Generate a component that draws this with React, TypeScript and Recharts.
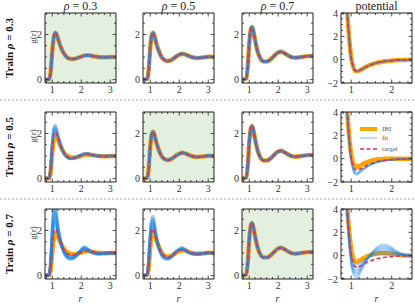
import React from "react";
import { LineChart, Line, XAxis, YAxis, ReferenceArea, Legend } from "recharts";

const FONT = '"Liberation Serif", "DejaVu Serif", serif';
const ORANGE = "#ffa500";
const BLUE = "#1e88e5";
const PINK = "#d63264";
const GREEN = "#e3efdf";

// r grid for g(r) panels and for potential panels
const R_G = [0.75, 0.9, 0.95, 1.0, 1.05, 1.1, 1.15, 1.2, 1.3, 1.4, 1.5, 1.6, 1.7, 1.8, 1.9, 2.0, 2.1, 2.2, 2.3, 2.45, 2.6, 2.8, 3.0, 3.2];
const R_U = [0.75, 0.85, 0.9, 0.95, 1.0, 1.05, 1.1, 1.15, 1.2, 1.3, 1.4, 1.5, 1.6, 1.7, 1.8, 1.9, 2.0, 2.1, 2.2, 2.3, 2.4, 2.5];

// target g(r) at each density
const G_TARGET_03 = [0, 0.02, 0.4, 1.25, 1.85, 2.07, 2.0, 1.8, 1.42, 1.16, 1.0, 0.93, 0.91, 0.93, 0.97, 1.02, 1.06, 1.08, 1.07, 1.03, 1.0, 0.99, 1.0, 1.0];
const G_TARGET_05 = [0, 0.03, 0.5, 1.4, 1.95, 2.07, 1.9, 1.65, 1.25, 0.98, 0.86, 0.82, 0.85, 0.93, 1.03, 1.1, 1.14, 1.12, 1.06, 0.99, 0.96, 0.98, 1.01, 1.0];
const G_TARGET_07 = [0, 0.05, 0.6, 1.6, 2.2, 2.33, 2.1, 1.75, 1.2, 0.9, 0.8, 0.8, 0.86, 0.97, 1.1, 1.2, 1.23, 1.18, 1.1, 1.0, 0.97, 1.0, 1.04, 1.05];

// trained at 0.5, tested at 0.3
const G_IBI_05_AT_03 = [0, 0.02, 0.35, 1.15, 1.72, 1.93, 1.88, 1.72, 1.4, 1.16, 1.02, 0.95, 0.93, 0.94, 0.97, 1.01, 1.05, 1.07, 1.06, 1.03, 1.0, 0.99, 1.0, 1.0];
const G_FIT_05_AT_03_A = [0, 0.03, 0.5, 1.45, 2.05, 2.18, 2.05, 1.82, 1.42, 1.13, 0.97, 0.9, 0.9, 0.93, 0.98, 1.04, 1.08, 1.09, 1.07, 1.03, 1.0, 0.99, 1.0, 1.0];
const G_FIT_05_AT_03_B = [0, 0.03, 0.52, 1.5, 2.12, 2.27, 2.12, 1.86, 1.44, 1.13, 0.96, 0.89, 0.89, 0.93, 0.98, 1.04, 1.09, 1.1, 1.08, 1.03, 1.0, 0.99, 1.0, 1.0];
const G_FIT_05_AT_03_C = [0, 0.04, 0.55, 1.55, 2.2, 2.36, 2.2, 1.9, 1.46, 1.12, 0.95, 0.88, 0.88, 0.92, 0.98, 1.05, 1.1, 1.11, 1.08, 1.03, 1.0, 0.99, 1.0, 1.0];

// trained at 0.7, tested at 0.3
const G_IBI_07_AT_03 = [0, 0.02, 0.3, 1.05, 1.6, 1.85, 1.83, 1.7, 1.42, 1.2, 1.05, 0.97, 0.95, 0.96, 0.99, 1.03, 1.07, 1.09, 1.08, 1.04, 1.01, 0.99, 1.0, 1.0];
const G_FIT_07_AT_03_A = [0, 0.04, 0.55, 1.55, 2.2, 2.35, 2.15, 1.85, 1.4, 1.1, 0.93, 0.86, 0.85, 0.89, 0.98, 1.08, 1.14, 1.13, 1.08, 1.02, 0.99, 0.99, 1.0, 1.0];
const G_FIT_07_AT_03_B = [0, 0.05, 0.6, 1.7, 2.4, 2.55, 2.3, 1.95, 1.42, 1.08, 0.9, 0.82, 0.81, 0.87, 0.98, 1.1, 1.17, 1.15, 1.08, 1.01, 0.98, 0.99, 1.0, 1.0];
const G_FIT_07_AT_03_C = [0, 0.05, 0.65, 1.85, 2.6, 2.75, 2.45, 2.02, 1.44, 1.06, 0.86, 0.79, 0.78, 0.85, 0.98, 1.12, 1.2, 1.17, 1.08, 1.0, 0.97, 0.99, 1.01, 1.0];
const G_FIT_07_AT_03_D = [0, 0.06, 0.7, 2.0, 2.8, 2.95, 2.6, 2.1, 1.46, 1.04, 0.83, 0.76, 0.76, 0.83, 0.98, 1.14, 1.24, 1.19, 1.08, 0.99, 0.96, 0.99, 1.01, 1.0];
const G_FIT_07_AT_03_E = [0, 0.06, 0.75, 2.15, 3.0, 3.15, 2.75, 2.18, 1.48, 1.02, 0.8, 0.73, 0.74, 0.82, 0.98, 1.16, 1.28, 1.21, 1.08, 0.98, 0.95, 0.99, 1.01, 1.0];

// trained at 0.7, tested at 0.5
const G_IBI_07_AT_05 = [0, 0.02, 0.4, 1.3, 1.82, 1.95, 1.83, 1.62, 1.26, 1.0, 0.88, 0.84, 0.86, 0.93, 1.02, 1.08, 1.12, 1.11, 1.06, 1.0, 0.97, 0.98, 1.01, 1.0];
const G_FIT_07_AT_05_A = [0, 0.04, 0.6, 1.6, 2.12, 2.2, 1.98, 1.68, 1.24, 0.95, 0.83, 0.8, 0.84, 0.94, 1.05, 1.12, 1.15, 1.12, 1.05, 0.98, 0.96, 0.98, 1.01, 1.0];
const G_FIT_07_AT_05_B = [0, 0.05, 0.65, 1.7, 2.25, 2.35, 2.08, 1.72, 1.24, 0.93, 0.8, 0.77, 0.82, 0.93, 1.06, 1.14, 1.18, 1.13, 1.05, 0.98, 0.96, 0.98, 1.01, 1.0];
const G_FIT_07_AT_05_C = [0, 0.05, 0.7, 1.8, 2.38, 2.5, 2.18, 1.76, 1.24, 0.91, 0.77, 0.74, 0.8, 0.93, 1.07, 1.16, 1.21, 1.15, 1.05, 0.97, 0.95, 0.98, 1.01, 1.0];
const G_FIT_07_AT_05_D = [0, 0.06, 0.75, 1.9, 2.5, 2.63, 2.28, 1.8, 1.24, 0.89, 0.74, 0.72, 0.78, 0.92, 1.08, 1.18, 1.24, 1.16, 1.05, 0.97, 0.95, 0.98, 1.01, 1.0];

// potentials
const U_TARGET = [12, 7, 4.2, 1.9, 0.2, -0.6, -0.95, -1.0, -0.93, -0.75, -0.56, -0.42, -0.3, -0.22, -0.16, -0.11, -0.08, -0.05, -0.03, -0.02, -0.01, 0];
const U_IBI_05 = [12, 7, 4.2, 2.0, 0.4, -0.35, -0.65, -0.7, -0.62, -0.45, -0.3, -0.18, -0.1, -0.05, -0.02, 0, 0, 0, 0, 0, 0, 0];
const U_FIT_05_A = [12, 7, 4.1, 1.7, 0, -0.85, -1.15, -1.18, -1.08, -0.85, -0.63, -0.46, -0.33, -0.24, -0.17, -0.12, -0.08, -0.05, -0.03, -0.02, -0.01, 0];
const U_FIT_05_B = [12, 7, 4.0, 1.6, -0.1, -0.95, -1.25, -1.28, -1.16, -0.9, -0.66, -0.48, -0.35, -0.25, -0.18, -0.12, -0.08, -0.05, -0.03, -0.02, -0.01, 0];
const U_FIT_05_C = [12, 7, 3.9, 1.5, -0.2, -1.05, -1.35, -1.38, -1.24, -0.95, -0.7, -0.5, -0.36, -0.26, -0.18, -0.13, -0.09, -0.06, -0.04, -0.02, -0.01, 0];
const U_IBI_07 = [12, 7, 4.3, 2.2, 0.6, -0.2, -0.48, -0.5, -0.42, -0.22, -0.05, 0.08, 0.16, 0.2, 0.21, 0.19, 0.15, 0.1, 0.06, 0.03, 0.01, 0];
const U_FIT_07_A = [12, 7, 4.2, 1.9, 0.2, -0.5, -0.72, -0.75, -0.68, -0.45, -0.22, -0.05, 0.06, 0.13, 0.15, 0.14, 0.11, 0.07, 0.04, 0.02, 0.01, 0];
const U_FIT_07_B = [12, 7, 4.1, 1.7, 0, -0.72, -0.95, -1.0, -0.9, -0.56, -0.22, 0.05, 0.22, 0.32, 0.35, 0.32, 0.25, 0.16, 0.09, 0.04, 0.01, 0];
const U_FIT_07_C = [12, 7, 4.0, 1.5, -0.2, -0.95, -1.2, -1.25, -1.1, -0.66, -0.24, 0.1, 0.32, 0.45, 0.5, 0.46, 0.36, 0.23, 0.12, 0.05, 0.02, 0];
const U_FIT_07_D = [12, 7, 3.9, 1.3, -0.4, -1.15, -1.4, -1.45, -1.28, -0.76, -0.26, 0.14, 0.42, 0.58, 0.65, 0.6, 0.47, 0.3, 0.16, 0.07, 0.02, 0];
const U_FIT_07_E = [12, 7, 3.8, 1.1, -0.6, -1.35, -1.6, -1.65, -1.45, -0.86, -0.28, 0.18, 0.52, 0.72, 0.8, 0.74, 0.58, 0.37, 0.2, 0.08, 0.02, 0];
const U_FIT_07_F = [12, 7, 3.7, 0.9, -0.8, -1.55, -1.8, -1.85, -1.62, -0.96, -0.3, 0.22, 0.62, 0.85, 0.95, 0.88, 0.69, 0.44, 0.24, 0.1, 0.03, 0];

// ticks
const G_X_MAJOR = [1, 2, 3];
const G_X_TICKS = [0.8, 1, 1.2, 1.4, 1.6, 1.8, 2, 2.2, 2.4, 2.6, 2.8, 3];
const G_Y_MAJOR = [0, 2];
const G_Y_TICKS = [0, 0.5, 1, 1.5, 2, 2.5];
const U_X_MAJOR = [1, 2];
const U_X_TICKS = [0.8, 1, 1.2, 1.4, 1.6, 1.8, 2, 2.2, 2.4];
const U_Y_MAJOR = [-2, 0, 2, 4];
const U_Y_TICKS = [-2, -1.5, -1, -0.5, 0, 0.5, 1, 1.5, 2, 2.5, 3, 3.5, 4];

const COL_TITLES = ["0.3", "0.5", "0.7"];
const ROW_LABELS = ["0.3", "0.5", "0.7"];

const COL_X = [45, 143, 242, 341];
const ROW_Y = [13, 112, 209];
const PW = 71;
const PH = 70;

type Panel = { kind: "g" | "u"; target: number[]; ibi: number[]; fits: number[][]; shaded?: boolean };

const PANELS: Panel[][] = [
  [
    { kind: "g", target: G_TARGET_03, ibi: G_TARGET_03, fits: [G_TARGET_03, G_TARGET_03, G_TARGET_03], shaded: true },
    { kind: "g", target: G_TARGET_05, ibi: G_TARGET_05, fits: [G_TARGET_05, G_TARGET_05, G_TARGET_05] },
    { kind: "g", target: G_TARGET_07, ibi: G_TARGET_07, fits: [G_TARGET_07, G_TARGET_07, G_TARGET_07] },
    { kind: "u", target: U_TARGET, ibi: U_TARGET, fits: [U_TARGET, U_TARGET, U_TARGET] },
  ],
  [
    { kind: "g", target: G_TARGET_03, ibi: G_IBI_05_AT_03, fits: [G_FIT_05_AT_03_A, G_FIT_05_AT_03_B, G_FIT_05_AT_03_C] },
    { kind: "g", target: G_TARGET_05, ibi: G_TARGET_05, fits: [G_TARGET_05, G_TARGET_05, G_TARGET_05], shaded: true },
    { kind: "g", target: G_TARGET_07, ibi: G_TARGET_07, fits: [G_TARGET_07, G_TARGET_07, G_TARGET_07] },
    { kind: "u", target: U_TARGET, ibi: U_IBI_05, fits: [U_FIT_05_A, U_FIT_05_B, U_FIT_05_C] },
  ],
  [
    { kind: "g", target: G_TARGET_03, ibi: G_IBI_07_AT_03, fits: [G_FIT_07_AT_03_A, G_FIT_07_AT_03_B, G_FIT_07_AT_03_C, G_FIT_07_AT_03_D, G_FIT_07_AT_03_E] },
    { kind: "g", target: G_TARGET_05, ibi: G_IBI_07_AT_05, fits: [G_FIT_07_AT_05_A, G_FIT_07_AT_05_B, G_FIT_07_AT_05_C, G_FIT_07_AT_05_D] },
    { kind: "g", target: G_TARGET_07, ibi: G_TARGET_07, fits: [G_TARGET_07, G_TARGET_07, G_TARGET_07], shaded: true },
    { kind: "u", target: U_TARGET, ibi: U_IBI_07, fits: [U_FIT_07_A, U_FIT_07_B, U_FIT_07_C, U_FIT_07_D, U_FIT_07_E, U_FIT_07_F] },
  ],
];

const fmt = (v: number) => (v < 0 ? "\u2212" + Math.abs(v) : String(v));

function makeTick(side: "b" | "t" | "l" | "r", majors: number[]) {
  return (p: any) => {
    const v = p.payload.value;
    const major = majors.includes(v);
    const len = major ? 3.5 : 2;
    const { x, y } = p;
    let line;
    if (side === "b") line = <line x1={x} x2={x} y1={y} y2={y - len} />;
    else if (side === "t") line = <line x1={x} x2={x} y1={y} y2={y + len} />;
    else if (side === "l") line = <line x1={x} x2={x + len} y1={y} y2={y} />;
    else line = <line x1={x} x2={x - len} y1={y} y2={y} />;
    return (
      <g stroke="#222" strokeWidth={0.8}>
        {line}
        {major && side === "b" && (
          <text x={x} y={y + 10} textAnchor="middle" fontSize={10} fontFamily={FONT} fill="#333" stroke="none">
            {fmt(v)}
          </text>
        )}
        {major && side === "l" && (
          <text x={x - 3} y={y} dy="0.35em" textAnchor="end" fontSize={10} fontFamily={FONT} fill="#333" stroke="none">
            {fmt(v)}
          </text>
        )}
      </g>
    );
  };
}

const renderLegend = () => (
  <svg width={60} height={32} style={{ overflow: "visible" }}>
    <line x1={0} x2={17} y1={5} y2={5} stroke={ORANGE} strokeWidth={4} />
    <text x={22} y={5} dy="0.35em" fontSize={7} fontFamily={FONT} fill="#555">IBI</text>
    <line x1={0} x2={17} y1={14} y2={14} stroke="#a9d0f3" strokeWidth={1.5} />
    <text x={22} y={14} dy="0.35em" fontSize={7} fontFamily={FONT} fill="#555">fit</text>
    <line x1={0} x2={17} y1={25} y2={25} stroke={PINK} strokeWidth={1.6} strokeDasharray="4 2.5" />
    <text x={22} y={25} dy="0.35em" fontSize={7} fontFamily={FONT} fill="#555">target</text>
  </svg>
);

function PanelChart({ panel, left, top, legend }: { panel: Panel; left: number; top: number; legend?: boolean }) {
  const g = panel.kind === "g";
  const rs = g ? R_G : R_U;
  const xDomain = g ? [0.75, 3.2] : [0.75, 2.5];
  const yDomain = g ? [-0.15, 2.95] : [-2, 4];
  const xTicks = g ? G_X_TICKS : U_X_TICKS;
  const xMajor = g ? G_X_MAJOR : U_X_MAJOR;
  const yTicks = g ? G_Y_TICKS : U_Y_TICKS;
  const yMajor = g ? G_Y_MAJOR : U_Y_MAJOR;
  const data = rs.map((r, i) => {
    const row: Record<string, number> = { r, target: panel.target[i], ibi: panel.ibi[i] };
    panel.fits.forEach((f, k) => (row["f" + k] = f[i]));
    return row;
  });
  const axisCommon = { tickSize: 0, tickMargin: 0, interval: 0 as const, allowDataOverflow: true, axisLine: { stroke: "#222", strokeWidth: 1 }, tickLine: false };
  return (
    <div style={{ position: "absolute", left: left - 24, top: top - 4 }}>
      <LineChart width={PW + 30} height={PH + 18} data={data} margin={{ top: 3, right: 5, bottom: 13, left: 23 }}>
        {panel.shaded && (
          <ReferenceArea xAxisId="b" yAxisId="l" x1={xDomain[0]} x2={xDomain[1]} y1={yDomain[0]} y2={yDomain[1]} fill={GREEN} fillOpacity={1} stroke="none" />
        )}
        <XAxis xAxisId="b" type="number" dataKey="r" domain={xDomain} ticks={xTicks} height={1} orientation="bottom" tick={makeTick("b", xMajor)} {...axisCommon} />
        <XAxis xAxisId="t" type="number" dataKey="r" domain={xDomain} ticks={xTicks} height={1} orientation="top" tick={makeTick("t", xMajor)} {...axisCommon} />
        <YAxis yAxisId="l" type="number" domain={yDomain} ticks={yTicks} width={1} orientation="left" tick={makeTick("l", yMajor)} {...axisCommon} />
        <YAxis yAxisId="r" type="number" domain={yDomain} ticks={yTicks} width={1} orientation="right" tick={makeTick("r", yMajor)} {...axisCommon} />
        <Line xAxisId="b" yAxisId="l" type="monotone" dataKey="ibi" stroke={ORANGE} strokeWidth={4.5} dot={false} isAnimationActive={false} />
        {panel.fits.map((_, k) => (
          <Line key={k} xAxisId="b" yAxisId="l" type="monotone" dataKey={"f" + k} stroke={BLUE} strokeOpacity={g ? 0.45 : 0.4} strokeWidth={g ? 3 : 1.8} dot={false} isAnimationActive={false} />
        ))}
        <Line xAxisId="b" yAxisId="l" type="monotone" dataKey="target" stroke={PINK} strokeWidth={1.6} strokeDasharray="4 2.5" dot={false} isAnimationActive={false} />
        {legend && (
          <Legend layout="horizontal" verticalAlign="middle" align="center" content={renderLegend} wrapperStyle={{ left: 43, top: 16, width: 60, height: 32 }} />
        )}
      </LineChart>
    </div>
  );
}

export default function App() {
  return (
    <div style={{ position: "absolute", left: 0, top: 0, width: 415, height: 304, background: "#fff", fontFamily: FONT }}>
      {PANELS.map((row, ri) =>
        row.map((p, ci) => (
          <PanelChart key={ri + "-" + ci} panel={p} left={COL_X[ci]} top={ROW_Y[ri]} legend={ri === 1 && ci === 3} />
        ))
      )}
      <svg width={415} height={304} style={{ position: "absolute", left: 0, top: 0, pointerEvents: "none" }} fontFamily={FONT}>
        {[100, 199].map((y) => (
          <line key={y} x1={0} x2={415} y1={y} y2={y} stroke="#888" strokeWidth={0.8} strokeDasharray="2 2" />
        ))}
        {COL_TITLES.map((t, i) => (
          <text key={t} x={COL_X[i] + PW / 2} y={10} textAnchor="middle" fontSize={12} fill="#222">
            <tspan fontStyle="italic">ρ</tspan> = {t}
          </text>
        ))}
        <text x={COL_X[3] + PW / 2} y={10} textAnchor="middle" fontSize={12} fill="#222">potential</text>
        {ROW_LABELS.map((t, i) => (
          <g key={t}>
            <text transform={`translate(9, ${ROW_Y[i] + PH / 2}) rotate(-90)`} textAnchor="middle" dy="0.35em" fontSize={11} fontWeight="bold" fill="#111">
              Train <tspan fontStyle="italic">ρ</tspan> = {t}
            </text>
            <text transform={`translate(33, ${ROW_Y[i] + PH / 2 - 11}) rotate(-90)`} textAnchor="middle" dy="0.35em" fontSize={9} fill="#444">
              g(r)
            </text>
          </g>
        ))}
        {COL_X.map((x) => (
          <text key={x} x={x + PW / 2} y={302} textAnchor="middle" fontSize={10} fontStyle="italic" fill="#333">r</text>
        ))}
      </svg>
    </div>
  );
}
